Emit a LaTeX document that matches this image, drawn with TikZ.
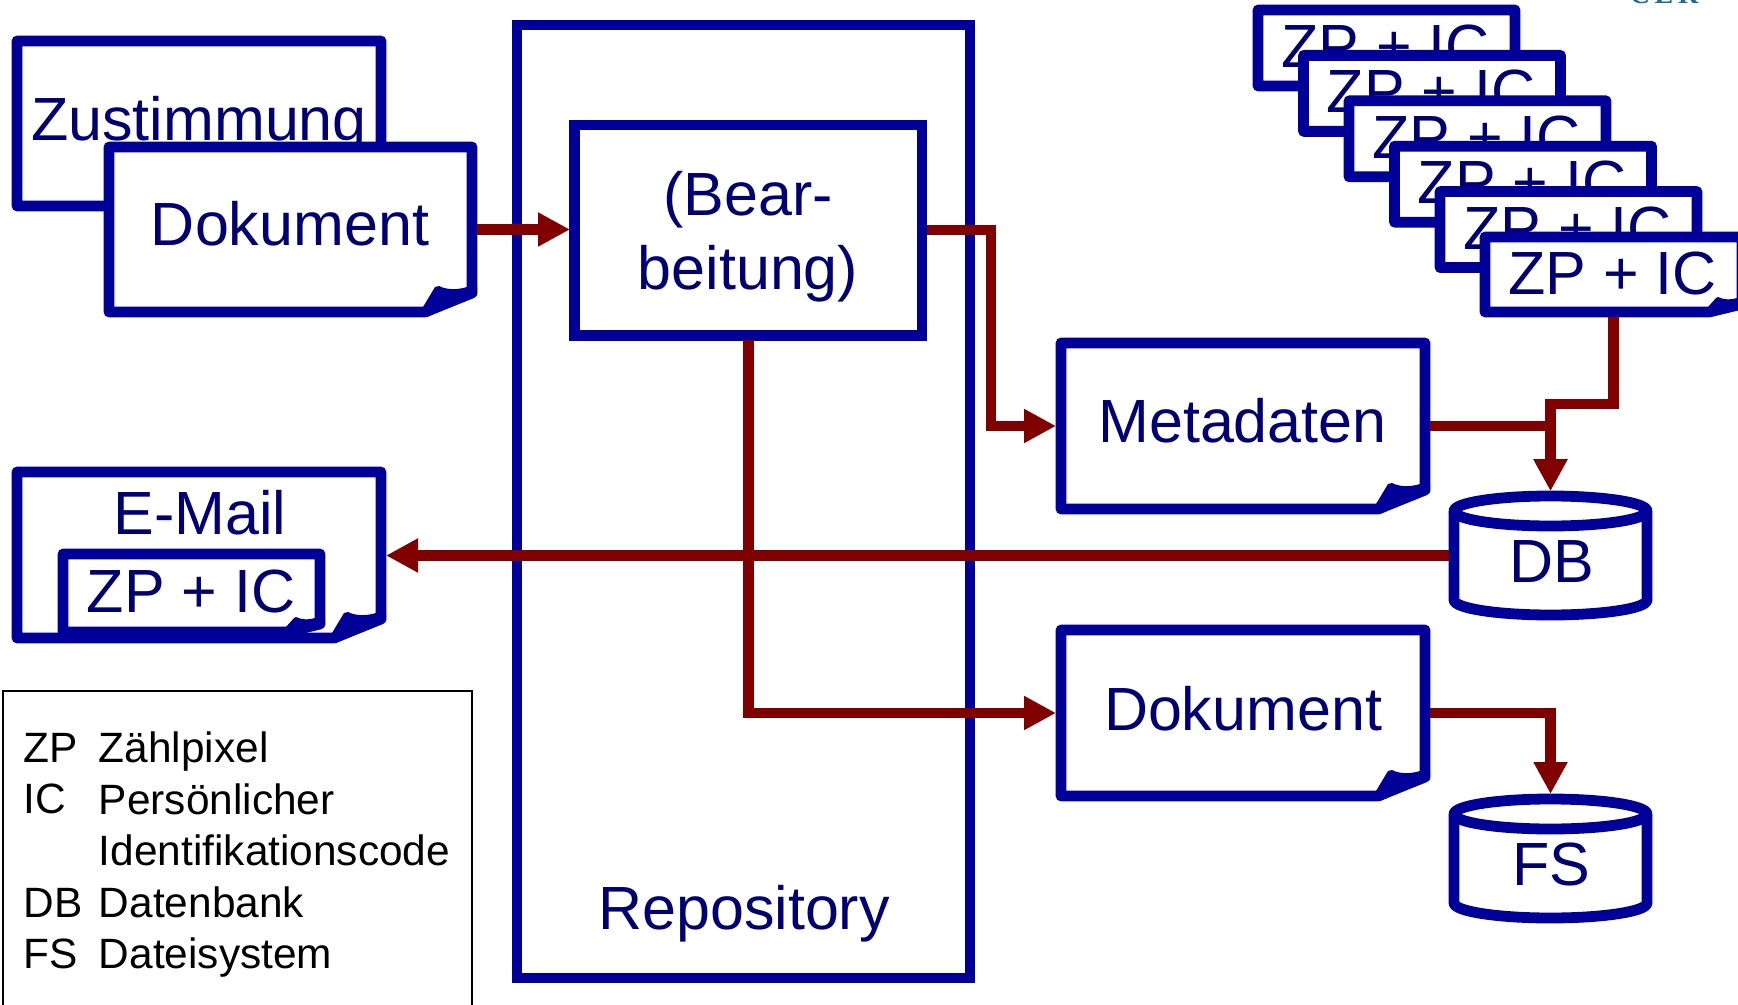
\documentclass[tikz,border=0pt]{standalone}
\usepackage{fontspec}
\setmainfont{Liberation Sans}
\newfontfamily\serifpart{Liberation Serif}
\usetikzlibrary{arrows.meta}
\definecolor{boxblue}{HTML}{000099}
\definecolor{textnavy}{HTML}{000073}
\definecolor{flowred}{HTML}{800000}
\definecolor{cornerteal}{HTML}{1A6AA0}
\tikzset{
  outline/.style={draw=boxblue,line width=5.4pt,line join=round,fill=white},
  foldfill/.style={fill=boxblue,draw=none},
  anchorbox/.style={inner sep=0pt,outer sep=0pt,draw=none,fill=none,rectangle},
  bigtext/.style={anchor=base,text=textnavy,inner sep=0pt,yshift=0.2pt,font=\fontsize{30.5}{36}\selectfont},
  legendtext/.style={anchor=base west,text=black,inner sep=0pt,font=\fontsize{21.2}{25}\selectfont},
  flow/.style={draw=flowred,line width=5.2pt,line join=miter},
  flowtip/.style={flow,-{Triangle[width=16pt,length=16pt,fill=flowred]}}
}
% name, L, T, R, B (centre lines of the stroke)
\newcommand{\placeanchor}[5]{%
  \node[anchorbox,minimum width={((#4)-(#2)+10)*0.5pt},minimum height={((#5)-(#3)+10)*0.5pt},anchor=center]
      (#1) at ({((#2)+(#4))/2},{((#3)+(#5))/2}) {};}
\newcommand{\bigdoc}[5]{%
  \draw[outline] (#2,#3) -- (#4,#3) -- (#4,#5-19) -- (#4-47,#5) -- (#2,#5) -- cycle;
  \fill[foldfill] (#4-5,#5-25) .. controls (#4-15,#5-22) and (#4-25,#5-22) .. (#4-33,#5-26)
    -- (#4-37,#5-25) -- (#4-49,#5-5) -- (#4-45,#5+5) -- (#4+5,#5-17) -- (#4+5,#5-25) -- cycle;
  \placeanchor{#1}{#2}{#3}{#4}{#5}}
\newcommand{\smalldoc}[5]{%
  \draw[outline] (#2,#3) -- (#4,#3) -- (#4,#5-8) -- (#4-33,#5) -- (#2,#5) -- cycle;
  \fill[foldfill] (#4-5,#5-14) .. controls (#4-11,#5-12) and (#4-18,#5-12) .. (#4-24,#5-15)
    -- (#4-26,#5-14) -- (#4-34,#5-5) -- (#4-32,#5+5) -- (#4+5,#5-6) -- (#4+5,#5-14) -- cycle;
  \placeanchor{#1}{#2}{#3}{#4}{#5}}
% name, top of the cylinder's centre line
\newcommand{\cyl}[2]{%
  \draw[outline] (1454,#2+15) arc[start angle=180,end angle=360,x radius=96.5,y radius=15]
     arc[start angle=0,end angle=180,x radius=96.5,y radius=15] -- cycle;
  \draw[outline,fill=none] (1454,#2+15) -- (1454,#2+104)
     arc[start angle=180,end angle=0,x radius=96.5,y radius=15] -- (1647,#2+15);
  \placeanchor{#1}{1454}{#2}{1647}{#2+119}}
\begin{document}
\begin{tikzpicture}[x=0.5pt,y=-0.5pt]
\useasboundingbox (0,0) rectangle (1738,1005);
\clip (0,0) rectangle (1738,1005);
\fill[white] (0,0) rectangle (1738,1005);

% clipped remnant at the top edge
\node[anchor=base,inner sep=0pt,text=cornerteal,font=\serifpart\bfseries\fontsize{14}{17}\selectfont] (cornertext) at (1664,4) {C\,E\,R};

% left documents
\bigdoc{zust}{17}{41}{381}{206}
\node[bigtext] (zusttext) at (199,141) {Zustimmung};
\bigdoc{dok}{109}{147}{472}{312}
\node[bigtext] (doktext) at (290,246) {Dokument};

% repository
\draw[outline,line join=miter] (517,25) rectangle (970,978);
\placeanchor{repo}{517}{25}{970}{978}
\node[bigtext] (repotext) at (744,930) {Repository};
\draw[outline,line join=miter] (574.5,125) rectangle (922,335.5);
\placeanchor{bear}{575}{125}{922}{335}
\node[bigtext] (bear1) at (748,216) {(Bear-};
\node[bigtext] (bear2) at (748,290) {beitung)};

% stack of ZP + IC
\smalldoc{zpa}{1258}{10}{1515}{86}
\node[bigtext] (zpatext) at (1385.5,68) {ZP + IC};
\smalldoc{zpb}{1303.5}{55.4}{1560.5}{131.4}
\node[bigtext] (zpbtext) at (1431,113.4) {ZP + IC};
\smalldoc{zpc}{1349}{100.8}{1606}{176.8}
\node[bigtext] (zpctext) at (1476.5,158.8) {ZP + IC};
\smalldoc{zpd}{1394.5}{146.2}{1651.5}{222.2}
\node[bigtext] (zpdtext) at (1522,204.2) {ZP + IC};
\smalldoc{zpe}{1440}{191.6}{1697}{267.6}
\node[bigtext] (zpetext) at (1567.5,249.6) {ZP + IC};
\smalldoc{zpf}{1485}{237}{1742}{312}
\node[bigtext] (zpftext) at (1612.5,295) {ZP + IC};

% right documents
\bigdoc{meta}{1061}{343}{1425}{509}
\node[bigtext] (metatext) at (1242.5,443) {Metadaten};
\bigdoc{doktwo}{1061}{630}{1425}{796}
\node[bigtext] (doktwotext) at (1243,731) {Dokument};

% e-mail
\bigdoc{email}{17}{472}{381}{638}
\node[bigtext] (emailtext) at (200,535) {E-Mail};
\smalldoc{mailzp}{63}{554}{320}{632}
\node[bigtext] (mailzptext) at (191,613) {ZP + IC};

% cylinders
\cyl{db}{496}
\node[bigtext] (dbtext) at (1552,583) {DB};
\cyl{fs}{799}
\node[bigtext] (fstext) at (1551,886) {FS};

% legend
\draw[black,line width=1.4pt] (3,691) rectangle (472,1030);
\node[legendtext] (l1a) at (23,762) {ZP};
\node[legendtext] (l1b) at (98.5,762) {Zählpixel};
\node[legendtext] (l2a) at (23.5,813) {IC};
\node[legendtext] (l2b) at (98.5,814) {Persönlicher};
\node[legendtext] (l3b) at (98.5,865) {Identifikationscode};
\node[legendtext] (l4a) at (23.5,917) {DB};
\node[legendtext] (l4b) at (98.5,917) {Datenbank};
\node[legendtext] (l5a) at (23.5,968) {FS};
\node[legendtext] (l5b) at (98.5,968) {Dateisystem};

% connectors
\coordinate (jx) at (991,0);
\coordinate (jy) at (0,404);
\draw[flowtip] (dok.east) -- (bear.west |- dok.east);
\draw[flowtip] (bear.east) -- (bear.east -| jx) -- (meta.west -| jx) -- (meta.west);
\draw[flowtip] (bear.south) |- (doktwo.west);
\draw[flowtip] (meta.east) -| (db.north);
\draw[flowtip] (zpf.south) -- (zpf.south |- jy) -- (db.north |- jy) -- (db.north);
\draw[flowtip] (db.west) -- (email.east |- db.west);
\draw[flowtip] (doktwo.east) -| (fs.north);
\end{tikzpicture}
\end{document}
